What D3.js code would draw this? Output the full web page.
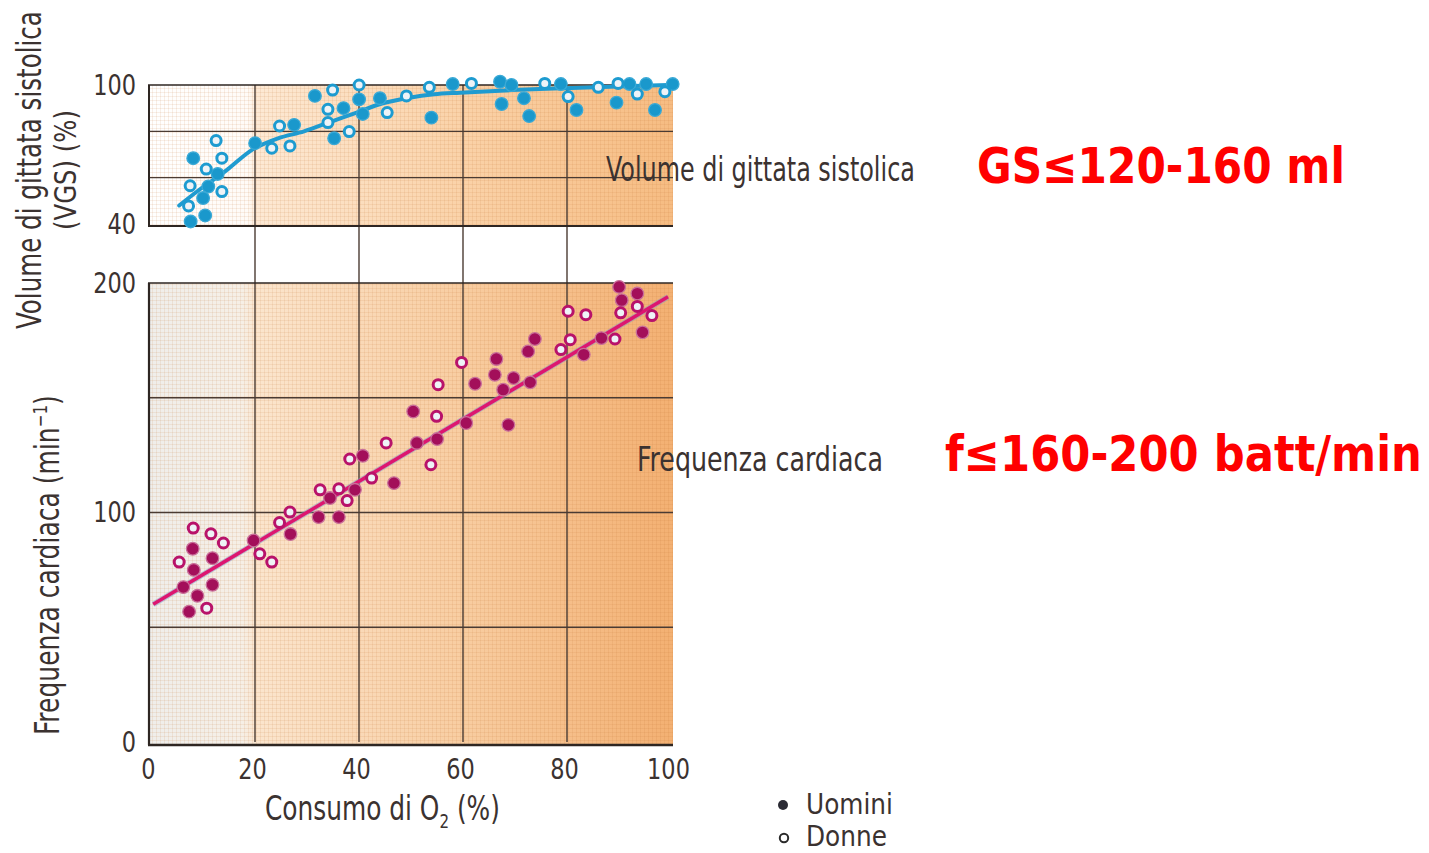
<!DOCTYPE html>
<html><head><meta charset="utf-8">
<script src="https://cdn.jsdelivr.net/npm/d3@7"></script>
<style>
html,body{margin:0;padding:0;background:#fff;}
svg{display:block;}
</style></head>
<body>
<svg id="c" width="1429" height="853"></svg>
<script>
// ---------- data ----------
const xTicks = [0, 20, 40, 60, 80, 100];
const topYTicks = [40, 100];
const topGridY = [60, 80];
const botYTicks = [0, 100, 200];
const botGridY = [50, 100, 150];
const gridX = [20, 40, 60, 80];

// Stroke volume (%) vs O2 consumption (%) — [x, y]
const svMen = [[8.7,68.4],[13.4,61.6],[11.6,56.2],[10.6,51.2],[11,43.7],[8.2,41.1],[20.6,74.9],[28.1,82.8],[32.1,95.3],[40.6,93.8],[37.6,90],[35.8,77],[41.3,87.5],[44.6,94.3],[54.5,85.9],[58.6,100.4],[67.7,101.4],[69.9,100],[68,91.8],[72.3,94.3],[73.3,86.6],[79.4,100.4],[82.4,89.2],[92.6,100.4],[90.1,92.4],[95.8,100.4],[97.5,89.2],[100.9,100.4]];
const svWomen = [[13.1,76],[14.2,68.4],[11.2,63.7],[8.1,56.5],[14.2,54],[7.8,47.8],[23.8,72.7],[27.3,73.7],[25.3,82.3],[35.5,97.8],[40.6,100],[34.6,89.5],[34.6,83.8],[38.7,79.9],[46,88.1],[49.7,95.3],[54.1,99],[62.2,100.7],[76.3,100.7],[80.8,95],[86.6,99],[90.4,100.7],[94.1,96.1],[99.4,97.1]];
const svCurve = [[6,48],[10,55],[15,63],[20,72],[25,77],[30,80],[35,84],[40,88],[45,92],[50,94.4],[55,96],[60,96.7],[70,97.8],[80,98.6],[90,99.3],[100,100]];

// Heart rate (min^-1) vs O2 consumption (%)
const hrMen = [[51,144],[51.7,130.3],[41.3,124.7],[47.3,112.8],[39.8,109.9],[35,106.3],[32.8,98],[36.7,98],[27.4,90.6],[20.3,87.8],[8.6,84.2],[12.4,80.1],[8.8,75],[6.8,67.5],[12.4,68.5],[9.5,63.7],[7.9,56.8],[90.6,198.3],[94.1,195.4],[91.1,192.5],[95.1,178.5],[83.8,168.8],[87.2,176],[74.4,175.6],[73.1,170.2],[67,166.9],[66.7,160],[62.9,156.1],[70.3,158.6],[68.3,153.5],[73.5,156.7],[61.2,139],[69.3,138.2],[55.6,132]];
const hrWomen = [[45.8,130.3],[38.8,123.3],[43,115],[33.1,109.9],[36.7,110.3],[38.3,105.2],[27.3,100.2],[25.3,95.6],[21.5,82],[23.8,78.4],[8.7,93.2],[12.1,90.7],[14.5,86.7],[6,78.4],[11.3,58.3],[94.1,189.8],[90.9,187],[96.9,185.8],[80.8,187.7],[84.2,186.2],[81.2,175.3],[79.4,171],[89.8,175.6],[60.3,165.4],[55.8,155.7],[55.5,141.9],[54.4,120.8]];
const hrLine = [[1,60],[100,194]];

// ---------- drawing ----------
const svg = d3.select("#c");
const FONT = "'Liberation Sans Narrow','DejaVu Sans Condensed','Liberation Sans',sans-serif";
const TXT = "#3b3230";
const GRID = "#4a3b33";

const x = d3.scaleLinear().domain([0,100]).range([148,668]);
const yTop = d3.scaleLinear().domain([40,100]).range([224,85]);
const yBot = d3.scaleLinear().domain([0,200]).range([742,283]);

const defs = svg.append("defs");
const gTop = defs.append("linearGradient").attr("id","gTop").attr("x1","0").attr("x2","1").attr("y1","0").attr("y2","0");
[[0,"#ffffff"],[0.19,"#fffbf7"],[0.21,"#fde9d4"],[0.6,"#fad2a8"],[1,"#f6bc82"]].forEach(s=>gTop.append("stop").attr("offset",s[0]).attr("stop-color",s[1]));
const gBot = defs.append("linearGradient").attr("id","gBot").attr("x1","0").attr("x2","1").attr("y1","0").attr("y2","0");
[[0,"#efeeeb"],[0.18,"#f6efe6"],[0.21,"#fbe5cd"],[0.6,"#f8cda1"],[1,"#f3b072"]].forEach(s=>gBot.append("stop").attr("offset",s[0]).attr("stop-color",s[1]));
const pat = defs.append("pattern").attr("id","paper").attr("width",4).attr("height",4).attr("patternUnits","userSpaceOnUse");
pat.append("path").attr("d","M0 0.5H4M0.5 0V4").attr("stroke","rgba(190,110,50,0.11)").attr("stroke-width",1);

const xr = [x(0), x(100)+5];
[[yTop(100), yTop(40)+3, "url(#gTop)"],[yBot(200), yBot(0)+3, "url(#gBot)"]].forEach(p=>{
  svg.append("rect").attr("x",xr[0]).attr("y",p[0]).attr("width",xr[1]-xr[0]).attr("height",p[1]-p[0]).attr("fill",p[2]);
  svg.append("rect").attr("x",xr[0]).attr("y",p[0]).attr("width",xr[1]-xr[0]).attr("height",p[1]-p[0]).attr("fill","url(#paper)");
});

// grid lines
const grid = svg.append("g").attr("stroke",GRID).attr("stroke-width",1.4).attr("fill","none");
gridX.forEach(v=>grid.append("line").attr("x1",x(v)+3).attr("x2",x(v)+3).attr("y1",yTop(100)).attr("y2",yBot(0)));
topGridY.forEach(v=>grid.append("line").attr("x1",x(0)).attr("x2",xr[1]).attr("y1",yTop(v)).attr("y2",yTop(v)));
botGridY.forEach(v=>grid.append("line").attr("x1",x(0)).attr("x2",xr[1]).attr("y1",yBot(v)).attr("y2",yBot(v)));
// frames
const fr = svg.append("g").attr("stroke","#2e2622").attr("fill","none");
fr.append("line").attr("x1",x(0)+1).attr("x2",x(0)+1).attr("y1",yTop(100)).attr("y2",yTop(40)+2).attr("stroke-width",2);
fr.append("line").attr("x1",x(0)).attr("x2",xr[1]).attr("y1",yTop(100)).attr("y2",yTop(100)).attr("stroke-width",1.4);
fr.append("line").attr("x1",x(0)).attr("x2",xr[1]).attr("y1",yTop(40)+2).attr("y2",yTop(40)+2).attr("stroke-width",2);
fr.append("line").attr("x1",x(0)+1).attr("x2",x(0)+1).attr("y1",yBot(200)).attr("y2",yBot(0)+3).attr("stroke-width",2.2);
fr.append("line").attr("x1",x(0)).attr("x2",xr[1]).attr("y1",yBot(200)).attr("y2",yBot(200)).attr("stroke-width",1.4);
fr.append("line").attr("x1",x(0)).attr("x2",xr[1]).attr("y1",yBot(0)+3).attr("y2",yBot(0)+3).attr("stroke-width",2.6);

// axes (labels only)
function styleAxis(g){ g.select(".domain").remove(); g.selectAll("line").remove();
  g.selectAll("text").attr("font-family",FONT).attr("font-size",29).attr("fill",TXT).attr("transform","scale(0.86,1)"); }
svg.append("g").attr("transform","translate(136,0)")
  .call(d3.axisLeft(yTop).tickValues(topYTicks).tickSize(0).tickPadding(0).tickFormat(d3.format("d"))).call(styleAxis);
svg.append("g").attr("transform","translate(136,0)")
  .call(d3.axisLeft(yBot).tickValues(botYTicks).tickSize(0).tickPadding(0).tickFormat(d3.format("d"))).call(styleAxis);
svg.append("g").attr("transform","translate(0,758)")
  .call(d3.axisBottom(x).tickValues(xTicks).tickSize(0).tickPadding(0).tickFormat(d3.format("d"))).call(styleAxis);

// curves
const lineGen = (ys)=>d3.line().x(d=>x(d[0])).y(d=>ys(d[1])).curve(d3.curveMonotoneX);
svg.append("path").datum(svCurve).attr("d",lineGen(yTop)).attr("fill","none").attr("stroke","#1f9bd0").attr("stroke-width",4).attr("stroke-linecap","round");
svg.append("path").datum(hrLine).attr("d",lineGen(yBot)).attr("fill","none").attr("stroke","#7e9ac8").attr("stroke-width",5.5).attr("opacity",0.5);
svg.append("path").datum(hrLine).attr("d",lineGen(yBot)).attr("fill","none").attr("stroke","#dd1670").attr("stroke-width",3.5);

// dots
function dots(data, ys, open, col, halo){
  const g = svg.append("g");
  if(!open){
    g.selectAll("circle").data(data).join("circle")
      .attr("cx",d=>x(d[0])).attr("cy",d=>ys(d[1])).attr("r",6.3)
      .attr("fill",col).attr("stroke",halo).attr("stroke-width",1.3);
  } else {
    g.selectAll("circle").data(data).join("circle")
      .attr("cx",d=>x(d[0])).attr("cy",d=>ys(d[1])).attr("r",5)
      .attr("fill","#eef3f7").attr("stroke",col).attr("stroke-width",3);
  }
}
dots(svMen, yTop, false, "#1a98cc", "#3aa9d6");
dots(svWomen, yTop, true, "#1d9bd0");
dots(hrMen, yBot, false, "#a30f5a", "#c9709a");
dots(hrWomen, yBot, true, "#b8126a");

// texts: fit to a target width by horizontal scaling
function text(t, xx, yy, size, opts={}){
  const el = svg.append("text").attr("x",xx).attr("y",yy).attr("font-family",opts.font||FONT)
    .attr("font-size",size).attr("fill",opts.fill||TXT).attr("font-weight",opts.weight||"normal")
    .attr("text-anchor",opts.anchor||"start");
  el.text(t);
  return el;
}
function fit(el, xx, yy, target, rotate){
  const w = el.node().getComputedTextLength();
  const s = target ? target / w : 1;
  const rot = rotate ? `rotate(-90 ${xx} ${yy}) ` : "";
  el.attr("transform", `${rot}translate(${xx},${yy}) scale(${s},1) translate(${-xx},${-yy})`);
}
let e;
e = text("Volume di gittata sistolica", 606, 181, 34); fit(e, 606, 181, 309);
e = text("Frequenza cardiaca", 637, 471, 34); fit(e, 637, 471, 246);
e = text("Volume di gittata sistolica", 41, 170, 33, {anchor:"middle"}); fit(e, 41, 170, 318, true);
e = text("(VGS) (%)", 76, 170, 31, {anchor:"middle"}); fit(e, 76, 170, 120, true);
e = text("Frequenza cardiaca (min", 59, 735, 33);
e.append("tspan").attr("font-size",20).attr("dy",-12).text("−1");
e.append("tspan").attr("dy",12).text(")");
fit(e, 59, 735, 340, true);

e = text("Consumo di O", 265, 820, 33);
e.append("tspan").attr("font-size",20).attr("dy",8).text("2");
e.append("tspan").attr("dy",-8).text(" (%)");
fit(e, 265, 820, 235);

// legend
svg.append("circle").attr("cx",783).attr("cy",805).attr("r",5).attr("fill","#2a2a33");
svg.append("circle").attr("cx",784).attr("cy",838).attr("r",4.2).attr("fill","#fff").attr("stroke","#2a2a2a").attr("stroke-width",2);
e = text("Uomini", 806, 814, 28); fit(e, 806, 814, 87);
e = text("Donne", 806, 846, 28); fit(e, 806, 846, 81);

// red notes
e = text("GS≤120-160 ml", 977, 183, 50, {font:"'DejaVu Sans',sans-serif", weight:"bold", fill:"#ff0000"}); fit(e, 977, 183, 368);
e = text("f≤160-200 batt/min", 945, 471, 50, {font:"'DejaVu Sans',sans-serif", weight:"bold", fill:"#ff0000"}); fit(e, 945, 471, 477);
</script>
</body></html>
